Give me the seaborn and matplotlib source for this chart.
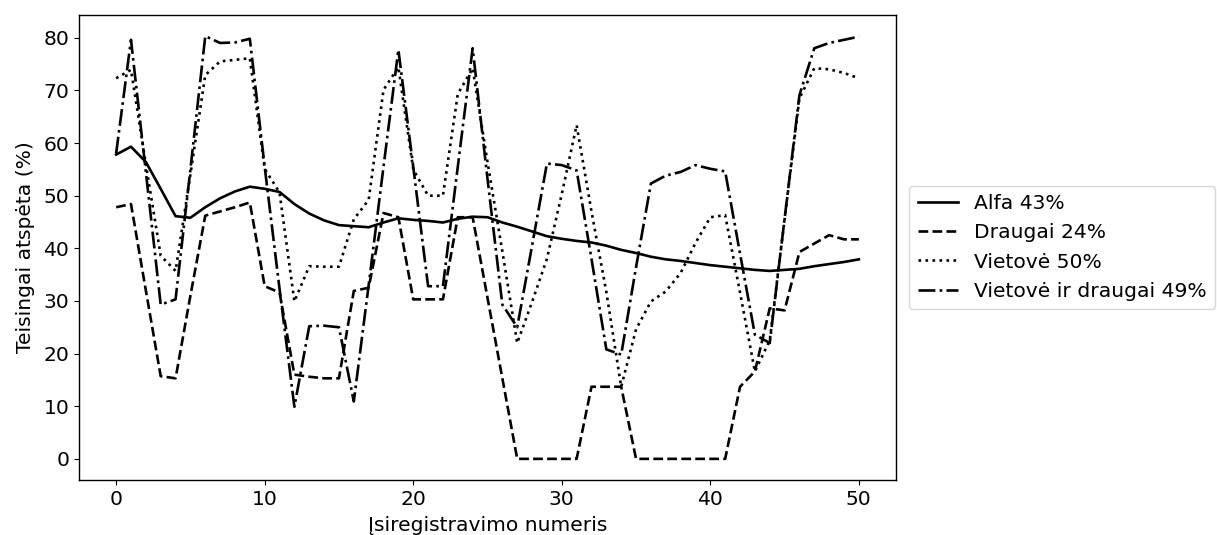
import numpy as np
import pandas as pd
import matplotlib
matplotlib.use("Agg")
import matplotlib.pyplot as plt
import seaborn as sns

x_values = list(range(51))

alfa = [57.8, 59.3, 56.4, 51.3, 46.1, 45.8, 47.8, 49.5, 50.8, 51.7,
        51.3, 50.7, 48.4, 46.6, 45.3, 44.4, 44.2, 44.0, 44.9, 45.7,
        45.4, 45.2, 44.9, 45.6, 46.0, 45.9, 44.9, 44.1, 43.2, 42.3,
        41.8, 41.4, 41.1, 40.5, 39.7, 39.1, 38.4, 37.9, 37.6, 37.2,
        36.8, 36.5, 36.2, 35.9, 35.7, 35.9, 36.1, 36.6, 37.0, 37.4, 37.9]

draugai = [47.8, 48.4, 32.0, 15.7, 15.3, 31.0, 46.2, 47.0, 47.8, 48.7,
           32.8, 31.6, 16.0, 15.6, 15.3, 15.3, 31.9, 32.5, 46.7, 45.9,
           30.3, 30.3, 30.3, 45.9, 45.9, 30.6, 15.3, 0.0, 0.0, 0.0,
           0.0, 0.0, 13.7, 13.7, 13.7, 0.0, 0.0, 0.0, 0.0, 0.0,
           0.0, 0.0, 13.7, 16.6, 28.6, 28.2, 39.3, 40.9, 42.5, 41.7, 41.7]

vietove = [72.3, 73.9, 56.0, 38.6, 35.7, 54.0, 72.9, 75.5, 75.8, 76.1,
           55.1, 50.6, 29.9, 36.6, 36.5, 36.5, 45.5, 49.2, 70.1, 74.4,
           55.0, 50.0, 50.0, 69.3, 74.2, 56.4, 39.4, 22.0, 29.8, 38.0,
           50.3, 63.4, 47.0, 31.7, 13.7, 24.6, 29.9, 31.8, 35.3, 41.0,
           45.9, 46.3, 31.6, 16.6, 22.5, 45.5, 68.5, 74.2, 74.0, 73.3, 72.3]

vietove_draugai = [58.0, 79.6, 54.5, 29.3, 30.3, 55.0, 80.3, 79.0, 79.1, 79.8,
                   55.5, 32.3, 9.9, 25.2, 25.3, 25.0, 10.9, 33.0, 55.5, 77.7,
                   55.5, 32.8, 32.8, 55.5, 78.0, 53.2, 29.3, 25.0, 40.5, 56.1,
                   55.8, 54.8, 38.0, 20.8, 19.8, 36.4, 52.3, 53.8, 54.5, 55.8,
                   55.1, 54.6, 39.0, 23.6, 22.0, 45.6, 69.1, 78.0, 79.0, 79.6, 80.2]

series_labels = ["Alfa 43%", "Draugai 24%", "Vietovė 50%", "Vietovė ir draugai 49%"]
series_values = [alfa, draugai, vietove, vietove_draugai]
line_styles = ["-", "--", ":", "-."]

x_label = "Įsiregistravimo numeris"
y_label = "Teisingai atspėta (%)"

plt.rcParams["font.family"] = ["DejaVu Sans"]
plt.rcParams["font.size"] = 14.6

fig = plt.figure(figsize=(12.17, 5.35), dpi=100)
ax = fig.add_axes([79 / 1217, 55 / 535, 817 / 1217, 465 / 535])

for lab, vals, ls in zip(series_labels, series_values, line_styles):
    df = pd.DataFrame({"x": x_values, "y": vals})
    sns.lineplot(data=df, x="x", y="y", ax=ax, color="black", linestyle=ls,
                 linewidth=1.9, label=lab)

ax.set_xlabel(x_label, fontsize=14.6, labelpad=5)
ax.set_ylabel(y_label, fontsize=14.6, labelpad=6)
ax.set_xticks([0, 10, 20, 30, 40, 50])
ax.set_yticks([0, 10, 20, 30, 40, 50, 60, 70, 80])
ax.tick_params(labelsize=14.6)
ax.margins(x=0.05, y=0.05)
for s in ax.spines.values():
    s.set_color("black")
    s.set_linewidth(1.0)

ax.legend(loc="center left", bbox_to_anchor=(1.004, 0.5), fontsize=14.6,
          handlelength=2.0)

fig.savefig("out.png", dpi=100)
